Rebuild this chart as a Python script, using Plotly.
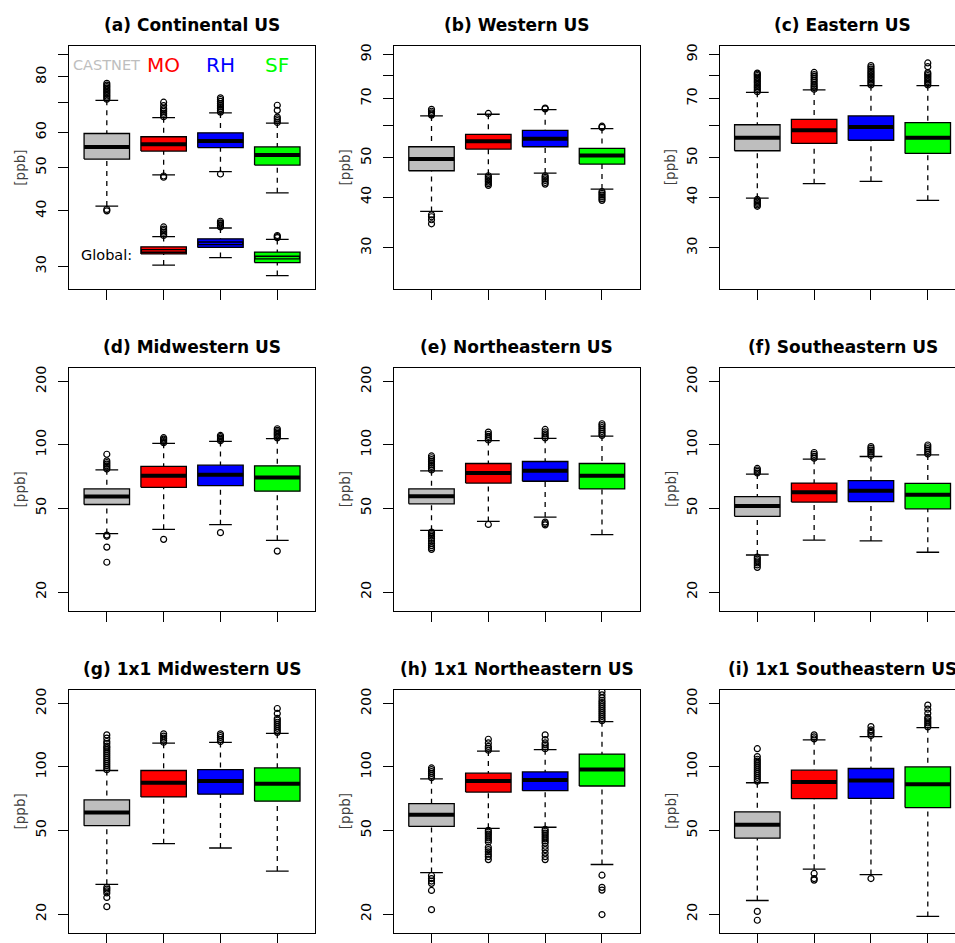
import plotly.graph_objects as go

# ---------------- data ----------------
GROUPS = ["CASTNET", "MO", "RH", "SF"]
COLORS = ["#BEBEBE", "#FF0000", "#0000FF", "#00FF00"]
TITLES = ["(a) Continental US", "(b) Western US", "(c) Eastern US",
          "(d) Midwestern US", "(e) Northeastern US", "(f) Southeastern US",
          "(g) 1x1 Midwestern US", "(h) 1x1 Northeastern US", "(i) 1x1 Southeastern US"]

# box statistics per panel (rows a..i), columns CASTNET, MO, RH, SF  [ppb]
LOWER = [[41.0, 48.2, 49.0, 43.9], [36.9, 45.6, 45.9, 41.9], [39.8, 43.2, 43.8, 39.3],
         [37.9, 39.7, 41.8, 35.2], [39.3, 43.3, 45.4, 37.5], [30.0, 35.3, 35.0, 30.9],
         [27.7, 43.2, 41.2, 32.0], [31.5, 51.1, 51.7, 34.4], [23.2, 32.7, 30.8, 19.5]]
Q1 = [[52.3, 54.5, 55.5, 50.7], [46.5, 52.6, 53.3, 48.3], [52.1, 54.3, 55.3, 51.3],
      [52.1, 62.9, 64.0, 60.3], [52.5, 65.9, 67.2, 61.8], [45.8, 53.5, 53.8, 49.7],
      [52.6, 72.0, 74.2, 68.8], [52.2, 76.0, 77.1, 81.2], [45.9, 70.7, 70.9, 64.1]]
MED = [[55.7, 56.5, 57.4, 53.4], [49.7, 55.0, 55.8, 50.7], [56.1, 58.5, 59.6, 56.1],
       [56.8, 71.4, 72.1, 70.1], [57.1, 73.5, 75.3, 71.4], [51.2, 59.6, 60.6, 57.9],
       [60.8, 84.1, 85.7, 83.2], [59.3, 85.7, 86.6, 97.2], [53.2, 84.7, 86.3, 82.7]]
Q3 = [[59.7, 58.7, 59.9, 55.7], [53.3, 57.2, 58.5, 52.8], [60.4, 62.3, 63.5, 61.1],
      [61.8, 79.0, 80.1, 79.5], [61.8, 81.6, 83.4, 81.6], [56.8, 65.9, 67.6, 65.7],
      [69.7, 96.2, 97.2, 98.9], [67.0, 93.4, 94.7, 115.1], [61.2, 96.5, 98.3, 100.0]]
UPPER = [[70.9, 64.8, 66.4, 63.0], [63.5, 64.1, 65.8, 59.1], [72.6, 73.6, 75.4, 75.4],
         [76.1, 101.7, 103.9, 107.1], [75.3, 104.8, 107.4, 110.1], [72.7, 85.5, 88.1, 89.6],
         [96.2, 129.7, 130.7, 144.5], [87.8, 118.9, 120.8, 164.1], [84.1, 134.5, 139.4, 153.7]]

# outliers per panel: one list per box (CASTNET, MO, RH, SF)
OUT_A = [[71.3, 71.9, 72.5, 73.1, 73.7, 74.3, 74.9, 75.5, 76.1, 76.7, 77.4, 40.0, 40.3],
         [65.1, 65.7, 66.3, 66.9, 67.5, 68.0, 69.0, 70.2, 47.6, 47.9],
         [66.7, 67.3, 67.9, 68.5, 69.1, 69.7, 70.5, 71.2, 71.8, 48.4],
         [63.2, 63.8, 64.4, 65.0, 67.3, 69.1]]
OUT_B = [[63.8, 64.2, 64.6, 65.2, 65.9, 36.2, 35.8, 35.2, 34.4],
         [64.4, 45.2, 44.8, 44.4, 44.0, 43.6, 43.2, 42.8],
         [66.1, 66.4, 45.2, 44.8, 44.4, 44.0, 43.5, 43.1],
         [59.5, 59.9, 41.3, 40.9, 40.5, 40.1, 39.7, 39.3]]
OUT_C = [[72.9, 73.6, 74.3, 75.0, 75.7, 76.4, 77.1, 77.8, 78.5, 79.2, 79.9, 80.5, 81.0,
          39.5, 39.2, 38.9, 38.6, 38.3, 38.0],
         [73.9, 74.6, 75.3, 76.0, 76.9, 77.8, 78.6, 79.5, 80.3, 81.3],
         [75.7, 76.4, 77.1, 77.8, 78.5, 79.2, 79.9, 80.6, 81.3, 82.0, 82.8, 83.6, 84.5],
         [75.7, 76.4, 77.1, 77.8, 78.5, 79.2, 79.9, 80.6, 81.2, 84.0, 85.8]]
OUT_D = [[76.8, 78.2, 79.6, 81.0, 82.5, 84.0, 90.3, 37.3, 36.8, 32.7, 27.7],
         [102.5, 103.8, 105.2, 106.6, 108.2, 35.6],
         [104.6, 106.2, 107.8, 109.4, 110.9, 38.3],
         [108.0, 109.8, 111.6, 113.4, 115.3, 117.3, 119.3, 31.3]]
OUT_E = [[76.0, 77.5, 79.0, 80.5, 82.0, 83.6, 85.2, 86.9, 88.6,
          38.5, 38.0, 37.4, 36.8, 36.0, 35.0, 34.0, 33.2, 32.5, 31.9],
         [105.5, 107.6, 109.8, 112.2, 115.0, 41.9],
         [108.0, 110.3, 112.7, 115.2, 118.4, 43.0, 42.3, 41.7],
         [111.0, 113.4, 115.8, 118.3, 120.9, 123.5, 126.0]]
OUT_F = [[73.5, 74.8, 76.0, 77.3, 29.3, 28.7, 28.1, 27.5, 26.9, 26.2],
         [86.5, 88.3, 90.1, 92.0],
         [89.0, 90.8, 92.6, 94.4, 96.2, 98.1],
         [90.5, 92.3, 94.2, 96.1, 98.0, 99.9]]
OUT_G = [[97.0, 99.2, 101.4, 103.6, 105.9, 108.2, 110.6, 113.0, 115.5, 118.0, 120.6, 123.2,
          125.5, 129.0, 132.1, 137.0, 142.0, 26.8, 26.3, 25.8, 25.2, 24.0, 21.7],
         [131.0, 134.0, 137.0, 140.2, 143.6],
         [132.0, 135.0, 138.0, 141.0, 143.6],
         [146.0, 149.3, 152.6, 156.0, 159.5, 163.0, 166.6, 170.0, 179.5, 189.5]]
OUT_H = [[89.0, 91.0, 93.0, 95.0, 97.0, 98.9, 30.5, 29.5, 28.7, 28.0, 25.9, 21.0],
         [120.0, 122.6, 125.2, 130.0, 135.4,
          50.0, 49.0, 48.0, 47.0, 46.0, 45.0, 44.0, 41.5, 40.5, 39.5, 38.5, 37.5, 36.3],
         [122.0, 124.7, 127.4, 130.0, 135.0, 142.0,
          50.5, 49.5, 48.5, 47.5, 46.5, 45.5, 44.5, 43.5, 42.0, 40.5, 39.0, 37.5, 36.3],
         [166.0, 169.7, 173.5, 177.4, 181.3, 185.3, 189.4, 193.6, 197.9, 202.3, 207.0, 213.0,
          220.0, 228.0, 30.6, 26.8, 26.0, 19.9]]
OUT_I = [[85.5, 87.4, 89.3, 91.3, 93.3, 95.4, 97.5, 99.7, 101.9, 104.2, 106.5, 108.8,
          112.0, 122.1, 20.6, 18.7],
         [136.0, 139.0, 142.0, 31.2, 29.5, 29.0],
         [141.0, 144.2, 147.4, 150.0, 155.4, 29.5],
         [155.0, 158.4, 161.9, 165.5, 169.2, 172.0, 180.0, 188.0, 196.6]]
OUTLIERS = [OUT_A, OUT_B, OUT_C, OUT_D, OUT_E, OUT_F, OUT_G, OUT_H, OUT_I]

# "Global" boxes in panel (a) for MO, RH, SF (positions 2..4)
G_POS = [2, 3, 4]
G_LOWER = [30.2, 31.4, 28.6]
G_Q1 = [32.0, 33.1, 30.6]
G_MED = [32.5, 33.8, 31.4]
G_Q3 = [33.2, 34.6, 32.3]
G_UPPER = [35.0, 36.6, 34.5]
G_OUT = [[35.2, 35.5, 35.8, 36.1, 36.4, 36.8],
         [36.8, 37.1, 37.4, 37.6, 37.9],
         [34.8, 35.0, 35.2]]

# axis ticks
TICKS_A = [30, 40, 50, 60, 70, 80, 90]
TICKTEXT_A = ["30", "40", "50", "60", "", "80", ""]
TICKS_BC = [30, 40, 50, 60, 70, 80, 90]
TICKTEXT_BC = ["30", "40", "50", "", "70", "", "90"]
TICKS_LOW = [20, 50, 100, 200]
TICKTEXT_LOW = ["20", "50", "100", "200"]

# ---------------- layout geometry ----------------
W, H = 955, 943
COL_LEFT = [69.3, 394.0, 719.8]
PANEL_W = 245.5
ROW_TOP = [43.3, 367.8, 692.6]
PANEL_H = 245.0
XR = (0.34, 4.66)
YR = [(1.4266, 1.9729), (1.376, 1.9755), (1.376, 1.9755)] + [(1.2129, 2.3668)] * 6
BOXW = 0.8
LW = 1.3
FONT = "DejaVu Sans"

fig = go.Figure()
annotations = []


def add_box(xa, ya, x, lo, q1, med, q3, hi, color, out, global_style=False):
    h = BOXW / 2
    s = BOXW / 4
    # whiskers (dashed, drawn from whisker end to hinge)
    fig.add_trace(go.Scatter(x=[x, x, None, x, x], y=[hi, q3, None, lo, q1], mode="lines",
                             line=dict(color="black", width=LW, dash="5px,5px"),
                             xaxis=xa, yaxis=ya, hoverinfo="skip"))
    # staples
    fig.add_trace(go.Scatter(x=[x - s, x + s, None, x - s, x + s], y=[hi, hi, None, lo, lo],
                             mode="lines", line=dict(color="black", width=LW),
                             xaxis=xa, yaxis=ya, hoverinfo="skip"))
    # box
    fig.add_trace(go.Scatter(x=[x - h, x + h, x + h, x - h, x - h], y=[q1, q1, q3, q3, q1],
                             mode="lines", fill="toself", fillcolor=color,
                             line=dict(color="black", width=LW),
                             xaxis=xa, yaxis=ya, hoverinfo="skip"))
    # median
    fig.add_trace(go.Scatter(x=[x - h, x + h], y=[med, med], mode="lines",
                             line=dict(color="black", width=4),
                             xaxis=xa, yaxis=ya, hoverinfo="skip"))
    if global_style:
        fig.add_trace(go.Scatter(x=[x - h + 0.02, x + h - 0.02], y=[med, med], mode="lines",
                                 line=dict(color=color, width=1.2),
                                 xaxis=xa, yaxis=ya, hoverinfo="skip"))
    # outliers
    if out:
        fig.add_trace(go.Scatter(x=[x] * len(out), y=out, mode="markers",
                                 marker=dict(symbol="circle-open", size=6, color="black",
                                             line=dict(width=1.2, color="black")),
                                 xaxis=xa, yaxis=ya, hoverinfo="skip"))


for p in range(9):
    r, c = divmod(p, 3)
    n = "" if p == 0 else str(p + 1)
    xa, ya = "x" + n, "y" + n
    left = COL_LEFT[c]
    right = left + PANEL_W
    x0 = left / W
    x1 = min(right, W) / W
    xr_hi = XR[1] if right <= W else XR[0] + (W - left) / PANEL_W * (XR[1] - XR[0])
    top = ROW_TOP[r]
    y1 = 1 - top / H
    y0 = 1 - (top + PANEL_H) / H

    for i in range(4):
        add_box(xa, ya, i + 1, LOWER[p][i], Q1[p][i], MED[p][i], Q3[p][i], UPPER[p][i],
                COLORS[i], OUTLIERS[p][i])

    if p == 0:
        for k in range(3):
            add_box(xa, ya, G_POS[k], G_LOWER[k], G_Q1[k], G_MED[k], G_Q3[k], G_UPPER[k],
                    COLORS[G_POS[k] - 1], G_OUT[k], global_style=True)
        tv, tt = TICKS_A, TICKTEXT_A
    elif p < 3:
        tv, tt = TICKS_BC, TICKTEXT_BC
    else:
        tv, tt = TICKS_LOW, TICKTEXT_LOW

    fig.layout["xaxis" + n] = dict(
        domain=[x0, x1], range=[XR[0], xr_hi], anchor=ya,
        showline=True, mirror=True, linecolor="black", linewidth=LW,
        showgrid=False, zeroline=False, ticks="outside", ticklen=10, tickwidth=LW,
        tickcolor="black", tickvals=[1, 2, 3, 4], showticklabels=False, fixedrange=True)
    fig.layout["yaxis" + n] = dict(
        domain=[y0, y1], type="log", range=list(YR[p]), anchor=xa,
        showline=True, mirror=(right <= W), linecolor="black", linewidth=LW,
        showgrid=False, zeroline=False, ticks="outside", ticklen=10, tickwidth=LW,
        tickcolor="black", tickvals=tv, ticktext=tt, tickangle=-90, ticklabelstandoff=6,
        tickfont=dict(family=FONT, size=14.5, color="black"), fixedrange=True)

    # panel title: centred on the panel's middle (x = 2.5 on the box axis)
    annotations.append(dict(text="<b>" + TITLES[p] + "</b>", xref=xa, yref="paper",
                            x=(XR[0] + XR[1]) / 2, y=1 - (top - 21) / H,
                            xanchor="center", yanchor="middle", showarrow=False,
                            font=dict(family=FONT, size=17, color="black")))
    # y label
    annotations.append(dict(text="[ppb]", xref="paper", yref="paper",
                            x=(left - 49) / W, y=1 - (top + PANEL_H / 2) / H,
                            xanchor="center", yanchor="middle", textangle=-90, showarrow=False,
                            font=dict(family=FONT, size=13.5, color="#404040")))

# group labels in panel (a)
for i, g in enumerate(GROUPS):
    annotations.append(dict(text=g, xref="x", yref="y domain", x=i + 1, y=0.921,
                            xanchor="center", yanchor="middle", showarrow=False,
                            font=dict(family=FONT, size=14.5 if i == 0 else 20, color=COLORS[i])))
annotations.append(dict(text="Global:", xref="x", yref="y domain", x=1, y=0.140,
                        xanchor="center", yanchor="middle", showarrow=False,
                        font=dict(family=FONT, size=14.5, color="black")))

fig.update_layout(width=W, height=H, margin=dict(l=0, r=0, t=0, b=0),
                  paper_bgcolor="white", plot_bgcolor="white", showlegend=False,
                  annotations=annotations)

fig.write_html("out.html", config={"displayModeBar": False},
               post_script="document.body.style.margin='0';document.body.style.overflow='hidden';")
